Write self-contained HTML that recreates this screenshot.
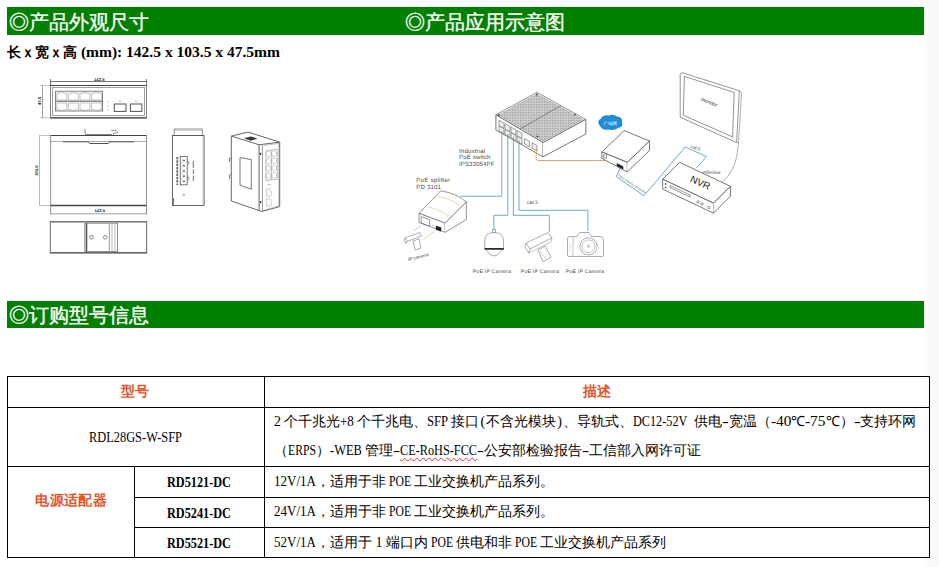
<!DOCTYPE html>
<html><head><meta charset="utf-8">
<style>
*{margin:0;padding:0;box-sizing:border-box}
html,body{width:939px;height:567px;overflow:hidden;background:#fff}
body{position:relative;font-family:"Liberation Sans",sans-serif;color:#000}
.strip{position:absolute;left:923px;top:0;width:16px;height:567px;background:linear-gradient(to right,#fcfcfc,#f8f8f8)}
.bar{position:absolute;left:7px;width:917px;background:#007f00}
.ht{position:absolute;color:#fff;font-family:"Liberation Serif",serif;font-size:19.5px;line-height:20px;white-space:nowrap;-webkit-text-stroke:0.35px #fff}
.dim{position:absolute;left:7px;top:45px;font-family:"Liberation Mono",monospace;font-weight:bold;font-size:14px;line-height:16px;white-space:nowrap}
.dim .a{letter-spacing:-1.4px}
.hl{position:absolute;height:1px;background:#000}
.vl{position:absolute;width:1px;background:#000}
.t{position:absolute;white-space:nowrap;font-size:14px;line-height:16px;font-family:"Liberation Mono",monospace}
.t .a{letter-spacing:-1.6px;word-spacing:-3.3px}
.r7 .a{letter-spacing:-1.4px;word-spacing:0}
.ws .a{word-spacing:-3.5px}
.s{display:inline-block;white-space:pre;font-family:"Liberation Serif",serif;font-size:14px;line-height:16px}
.s i{display:inline-block;font-style:normal;transform-origin:0 50%}
.s.b{font-weight:bold}
.sp{text-decoration:underline wavy #e03030;text-decoration-thickness:1px;text-underline-offset:2px}
.or{color:#e5542a;font-weight:bold;font-family:"Liberation Sans",sans-serif}
svg{position:absolute;left:0;top:0}
</style></head>
<body>
<div class="strip"></div>
<div class="bar" style="top:7px;height:28px"></div>
<div class="ht" style="left:9px;top:13px">◎产品外观尺寸</div>
<div class="ht" style="left:405px;top:13px">◎产品应用示意图</div>
<div class="dim">长ｘ宽ｘ高<span class="s b" style="width:203px"><i style="transform:scaleX(1.108)"> (mm): 142.5 x 103.5 x 47.5mm</i></span></div>

<div class="bar" style="top:301px;height:27px"></div>
<div class="ht" style="left:9px;top:306px">◎订购型号信息</div>

<!-- table lines -->
<div class="hl" style="left:7px;top:376px;width:923px"></div>
<div class="hl" style="left:7px;top:407px;width:923px"></div>
<div class="hl" style="left:7px;top:466px;width:923px"></div>
<div class="hl" style="left:134px;top:497px;width:796px"></div>
<div class="hl" style="left:134px;top:527px;width:796px"></div>
<div class="hl" style="left:7px;top:557px;width:923px"></div>
<div class="vl" style="left:7px;top:376px;height:182px"></div>
<div class="vl" style="left:134px;top:466px;height:92px"></div>
<div class="vl" style="left:264px;top:376px;height:182px"></div>
<div class="vl" style="left:929px;top:376px;height:182px"></div>

<div class="t or" style="left:121px;top:383px">型号</div>
<div class="t or" style="left:582.5px;top:383px">描述</div>
<div class="t" style="left:89px;top:430px"><span class="s" style="width:93.0px"><i style="transform:scaleX(0.885)">RDL28GS-W-SFP</i></span></div>
<div class="t or" style="left:35.3px;top:492px;letter-spacing:0.4px">电源适配器</div>
<div class="t" style="left:167px;top:475px"><span class="s b" style="width:64.0px"><i style="transform:scaleX(0.875)">RD5121-DC</i></span></div>
<div class="t" style="left:167px;top:506px"><span class="s b" style="width:64.0px"><i style="transform:scaleX(0.875)">RD5241-DC</i></span></div>
<div class="t" style="left:167px;top:536px"><span class="s b" style="width:64.0px"><i style="transform:scaleX(0.875)">RD5521-DC</i></span></div>

<div class="t" id="r1" style="left:274px;top:414px"><span class="s" style="width:10.3px"><i class="" style="transform:scaleX(0.981)">2 </i></span>个千兆光<span class="s" style="width:17.1px"><i class="" style="transform:scaleX(0.929)">+8 </i></span>个千兆电、<span class="s" style="width:23.9px"><i class="" style="transform:scaleX(0.907)">SFP </i></span>接口<span class="s" style="width:6.8px"><i class="" style=";padding-left:1.1px">(</i></span>不含光模块<span class="s" style="width:6.8px"><i class="" style=";padding-left:1.1px">)</i></span>、导轨式、<span class="s" style="width:54.4px"><i class="" style="transform:scaleX(0.874)">DC12-52V</i></span><span class="s" style="width:6.8px"><i class="" style="transform:scaleX(1.943)"> </i></span>供电<span class="s" style="width:6.8px"><i class="" style="transform:scaleX(1.456)">-</i></span>宽温（<span class="s" style="width:20.4px"><i class="" style="transform:scaleX(1.093)">-40</i></span>℃<span class="s" style="width:20.4px"><i class="" style="transform:scaleX(1.093)">-75</i></span>℃）<span class="s" style="width:6.8px"><i class="" style="transform:scaleX(1.456)">-</i></span>支持环网</div>
<div class="t" id="r2" style="left:274px;top:443px">（<span class="s" style="width:28.0px"><i class="" style="transform:scaleX(0.837)">ERPS</i></span>）<span class="s" style="width:35.0px"><i class="" style="transform:scaleX(0.891)">-WEB </i></span>管理<span class="s" style="width:7.0px"><i class="" style="transform:scaleX(1.498)">-</i></span><span class="s" style="width:77.0px"><i class="sp" style="transform:scaleX(0.876)">CE-RoHS-FCC</i></span><span class="s" style="width:7.0px"><i class="" style="transform:scaleX(1.498)">-</i></span>公安部检验报告<span class="s" style="width:7.0px"><i class="" style="transform:scaleX(1.498)">-</i></span>工信部入网许可证</div>
<div class="t" id="r3" style="left:274px;top:474px"><span class="s" style="width:42.0px"><i class="" style="transform:scaleX(0.931)">12V/1A</i></span>，适用于非<span class="s" style="width:28.0px"><i class="" style="transform:scaleX(0.837)"> POE </i></span>工业交换机产品系列。</div>
<div class="t" id="r4" style="left:274px;top:504px"><span class="s" style="width:42.0px"><i class="" style="transform:scaleX(0.931)">24V/1A</i></span>，适用于非<span class="s" style="width:28.0px"><i class="" style="transform:scaleX(0.837)"> POE </i></span>工业交换机产品系列。</div>
<div class="t" id="r5" style="left:274px;top:535px"><span class="s" style="width:42.0px"><i class="" style="transform:scaleX(0.931)">52V/1A</i></span>，适用于<span class="s" style="width:14.0px"><i class="" style=""> 1 </i></span>端口内<span class="s" style="width:28.0px"><i class="" style="transform:scaleX(0.837)"> POE </i></span>供电和非<span class="s" style="width:28.0px"><i class="" style="transform:scaleX(0.837)"> POE </i></span>工业交换机产品系列</div>

<svg width="939" height="567" viewBox="0 0 939 567">
<g fill="none" stroke="#555" stroke-width="0.8">
 <!-- front view -->
 <line x1="50.5" y1="81.5" x2="146.5" y2="81.5"/>
 <line x1="50.5" y1="79" x2="50.5" y2="85"/>
 <line x1="146.5" y1="79" x2="146.5" y2="85"/>
 <line x1="40" y1="85.5" x2="50.5" y2="85.5" stroke="#999" stroke-width="0.6"/>
 <line x1="40" y1="117.8" x2="50.5" y2="117.8" stroke="#999" stroke-width="0.6"/>
 <line x1="42.5" y1="85.5" x2="42.5" y2="117.8" stroke="#777" stroke-width="0.7"/>
 <rect x="50.5" y="85.5" width="96" height="32.3" stroke="#777" stroke-width="0.9"/>
 <line x1="50.5" y1="85.5" x2="146.5" y2="85.5" stroke="#444" stroke-width="1.2"/>
 <line x1="50.5" y1="117.8" x2="146.5" y2="117.8" stroke="#444" stroke-width="1.2"/>
 <rect x="52.5" y="87.5" width="92" height="28" stroke="#888"/>
 <rect x="55.6" y="91.2" width="47" height="19.8" stroke="#666"/>
 <line x1="55.6" y1="101.2" x2="102.6" y2="101.2" stroke="#555" stroke-width="1"/>
 <g stroke="#aaa" stroke-width="0.7">
  <path d="M56.8 93.2 h3.2 v-0.9 h3.6 v0.9 h3.2 v6.8 h-10z"/>
  <path d="M56.8 109.8 h3.2 v0.9 h3.6 v-0.9 h3.2 v-6.8 h-10z"/>
  <path d="M68.4 93.2 h3.2 v-0.9 h3.6 v0.9 h3.2 v6.8 h-10z"/>
  <path d="M68.4 109.8 h3.2 v0.9 h3.6 v-0.9 h3.2 v-6.8 h-10z"/>
  <path d="M80.0 93.2 h3.2 v-0.9 h3.6 v0.9 h3.2 v6.8 h-10z"/>
  <path d="M80.0 109.8 h3.2 v0.9 h3.6 v-0.9 h3.2 v-6.8 h-10z"/>
  <path d="M91.6 93.2 h3.2 v-0.9 h3.6 v0.9 h3.2 v6.8 h-10z"/>
  <path d="M91.6 109.8 h3.2 v0.9 h3.6 v-0.9 h3.2 v-6.8 h-10z"/>
 </g>
 <g stroke="#999" stroke-width="0.8"><line x1="107.5" y1="102.2" x2="108.8" y2="102.2"/><line x1="107.5" y1="106" x2="108.8" y2="106"/><line x1="107.5" y1="109.5" x2="108.8" y2="109.5"/></g>
 <rect x="114.3" y="104" width="11.7" height="7.4" stroke="#555" stroke-width="1"/>
 <rect x="130.4" y="104" width="11.5" height="7.4" stroke="#555" stroke-width="1"/>
 <g stroke="#aaa" stroke-width="0.5"><line x1="118" y1="101.5" x2="122" y2="101.5"/><line x1="134" y1="101.5" x2="138" y2="101.5"/></g>
 <!-- top view -->
 <line x1="39.5" y1="135.5" x2="50.6" y2="135.5" stroke="#999" stroke-width="0.6"/>
 <line x1="50.6" y1="135.5" x2="146.5" y2="135.5" stroke="#444" stroke-width="1.2"/>
 <line x1="50.6" y1="141.5" x2="146.5" y2="141.5" stroke="#999"/>
 <path d="M63 141.8 H88 L90 143.5 H108 L110 141.8 H134" stroke="#555" stroke-width="1"/>
 <line x1="39.5" y1="205.5" x2="50.6" y2="205.5" stroke="#999" stroke-width="0.6"/>
 <line x1="50.6" y1="205.5" x2="146.5" y2="205.5" stroke="#444" stroke-width="1.3"/>
 <line x1="50.6" y1="213.8" x2="146.5" y2="213.8" stroke="#777" stroke-width="0.7"/>
 <line x1="50.6" y1="135.5" x2="50.6" y2="214.5" stroke="#666" stroke-width="0.7"/>
 <line x1="146.5" y1="135.5" x2="146.5" y2="214.5" stroke="#666" stroke-width="0.7"/>
 <line x1="39.5" y1="135.5" x2="39.5" y2="205.5" stroke="#888" stroke-width="0.6"/>
 <path d="M84.8 129 L85.5 134.5 H112" stroke="#666" stroke-width="0.8"/>
 <path d="M111 130.5 H116.5 Q118 131 117.5 133 H113.5 V135" stroke="#777" stroke-width="0.7"/>
 <!-- bottom (DIN) view -->
 <rect x="50.3" y="221.6" width="96.4" height="31.4" stroke="#666" stroke-width="1"/>
 <line x1="50.3" y1="222" x2="146.7" y2="222" stroke="#777" stroke-width="1.2"/>
 <line x1="50.3" y1="252.6" x2="146.7" y2="252.6" stroke="#666" stroke-width="1.4"/>
 <rect x="84.8" y="223.2" width="32.8" height="28.3" stroke="#777" stroke-width="0.8"/>
 <line x1="86.5" y1="223.2" x2="86.5" y2="251.5" stroke="#555" stroke-width="1.6"/>
 <line x1="109.4" y1="223.2" x2="109.4" y2="251.5" stroke="#aaa" stroke-width="1.2"/>
 <line x1="112" y1="223.2" x2="112" y2="251.5" stroke="#999" stroke-width="0.7"/>
 <line x1="115" y1="223.2" x2="115" y2="251.5" stroke="#999" stroke-width="0.7"/>
 <circle cx="91.6" cy="237.3" r="1.8" stroke="#777" stroke-width="0.9"/>
 <circle cx="105.3" cy="237.3" r="1.8" stroke="#777" stroke-width="0.9"/>
 <!-- side view -->
 <rect x="174.2" y="129" width="28.1" height="6.5" stroke="#777"/>
 <line x1="174.2" y1="130.5" x2="202.3" y2="130.5" stroke="#aaa" stroke-width="0.6"/>
 <rect x="172.4" y="135.5" width="31.7" height="70" stroke="#555" stroke-width="0.9"/>
 <line x1="202.8" y1="136" x2="202.8" y2="205" stroke="#aaa" stroke-width="0.5"/>
 <line x1="173.6" y1="198" x2="173.6" y2="205.5" stroke="#555" stroke-width="0.8"/>
 <rect x="180.3" y="156.4" width="6.9" height="28.4" stroke="#666" stroke-width="0.9"/>
 <line x1="182.3" y1="158" x2="182.3" y2="183" stroke="#bbb" stroke-width="0.5"/>
 <g fill="#888"><circle cx="184" cy="160.5" r="0.6"/><circle cx="184" cy="165.8" r="0.6"/><circle cx="184" cy="171" r="0.6"/><circle cx="184" cy="176.2" r="0.6"/><circle cx="184" cy="181.4" r="0.6"/></g>
 <g stroke="#777" stroke-width="0.7"><path d="M187.2 161.5 h1.6 v2.5 h-1.6"/><path d="M187.2 177 h1.6 v2.5 h-1.6"/></g>
 <line x1="177.3" y1="157" x2="177.3" y2="185" stroke="#666" stroke-width="1.8" stroke-dasharray="2.5 0.8"/>
 <line x1="193.4" y1="161" x2="193.4" y2="168" stroke="#888" stroke-width="1.2"/>
 <line x1="193.4" y1="169.5" x2="193.4" y2="174" stroke="#888" stroke-width="1.2"/>
 <line x1="193.4" y1="175.5" x2="193.4" y2="181" stroke="#888" stroke-width="1.2"/>
 <circle cx="183.7" cy="194.8" r="0.9" stroke="#888" stroke-width="0.6"/>
 <!-- iso view -->
 <path d="M231.3 136.1 L248 132.1 L279.7 142.1 L279.7 206.6 L262 211.4 L259.1 210.6 L231.3 201 Z" stroke="#555" stroke-width="0.9"/>
 <path d="M231.3 136.1 L259.1 144.8 L279.7 142.1" stroke="#555" stroke-width="0.9"/>
 <line x1="259.1" y1="144.8" x2="259.1" y2="210.6" stroke="#555" stroke-width="0.9"/>
 <path d="M262.5 145 L262.5 211" stroke="#777" stroke-width="0.7"/>
 <path d="M264.2 145.5 L278.8 143.3 L278.8 206 L264.2 210" stroke="#999" stroke-width="0.6"/>
 <path d="M240 157.5 L251.3 159.6 L251.3 189.2 L240 185.2 Z" stroke="#555" stroke-width="0.8"/>
 <path d="M244.5 138.3 L251 136.8 L257 138.6 L250.5 140.4 Z" fill="#333" stroke="#444" stroke-width="0.5"/>
 <g stroke="#aaa" stroke-width="0.6">
  <path d="M265.9 150.6 L277.3 149.2 L277.3 179.3 L265.9 180.6 Z" stroke="#999"/>
  <line x1="271.6" y1="150" x2="271.6" y2="180" stroke="#999"/>
  <path d="M267.3 151.4 h2.4 l1.2 1.2 v2.8 l-1.2 1.2 h-2.4 l-1.2 -1.2 v-2.8z"/>
  <path d="M267.3 158.6 h2.4 l1.2 1.2 v2.8 l-1.2 1.2 h-2.4 l-1.2 -1.2 v-2.8z"/>
  <path d="M267.3 165.8 h2.4 l1.2 1.2 v2.8 l-1.2 1.2 h-2.4 l-1.2 -1.2 v-2.8z"/>
  <path d="M267.3 173.0 h2.4 l1.2 1.2 v2.8 l-1.2 1.2 h-2.4 l-1.2 -1.2 v-2.8z"/>
  <path d="M272.9 151.0 h2.4 l1.2 1.2 v2.8 l-1.2 1.2 h-2.4 l-1.2 -1.2 v-2.8z"/>
  <path d="M272.9 158.2 h2.4 l1.2 1.2 v2.8 l-1.2 1.2 h-2.4 l-1.2 -1.2 v-2.8z"/>
  <path d="M272.9 165.4 h2.4 l1.2 1.2 v2.8 l-1.2 1.2 h-2.4 l-1.2 -1.2 v-2.8z"/>
  <path d="M272.9 172.6 h2.4 l1.2 1.2 v2.8 l-1.2 1.2 h-2.4 l-1.2 -1.2 v-2.8z"/>
  <path d="M266.3 189 h4.5 v2 l0.8 0.8 v3 l-0.8 0.8 v0.5 h-4.5z"/>
  <path d="M266.3 199 h4.5 v2 l0.8 0.8 v3 l-0.8 0.8 v0.5 h-4.5z"/>
  <line x1="267" y1="184.8" x2="271.5" y2="184.3"/>
 </g>
 <g stroke="#333" stroke-width="1.3"><line x1="260.6" y1="152.8" x2="260.6" y2="155"/><line x1="260.6" y1="201" x2="260.6" y2="203.2"/></g>
 <g stroke="#666" stroke-width="0.8"><path d="M231.3 158 L229.5 158 V162"/><path d="M231.3 174 L229.5 175 V179"/></g>
</g>
<g font-family="Liberation Sans" font-size="4" fill="#222" font-weight="bold" style="text-rendering:geometricPrecision">
 <text x="94" y="80.5" font-size="4.2">142.5</text>
 <text x="94.5" y="212.3" font-size="4.2">142.5</text>
 <text transform="translate(41.3 105) rotate(-90)" font-size="4.2">47.5</text>
 <text transform="translate(38.3 176) rotate(-90)" font-size="4.2">103.5</text>
</g>
<defs>
 <pattern id="dots" width="1.6" height="1.6" patternUnits="userSpaceOnUse">
  <rect width="1.6" height="1.6" fill="#d0d0d0"/>
  <rect width="0.8" height="0.8" fill="#959595"/>
 </pattern>
</defs>
<g fill="none" stroke-linejoin="round">
 <!-- switch -->
 <path d="M495.9 114.8 L536.9 92.3 L585.8 119.4 L543 142.6 Z" fill="#fff" stroke="#666" stroke-width="0.7"/>
 <path d="M498.5 114.9 L536.9 93.9 L583.2 119.4 L543 141 Z" fill="url(#dots)" stroke="#888" stroke-width="0.4"/>
 <line x1="561" y1="105.5" x2="520" y2="129" stroke="#555" stroke-width="0.6"/>
 <path d="M495.9 114.8 L543 142.6 L543 156.8 L495.9 130 Z" fill="#fff" stroke="#555" stroke-width="0.8"/>
 <path d="M543 142.6 L585.8 119.4 L585.8 134 L543 156.8" fill="#fff" stroke="#555" stroke-width="0.8"/>
 <g stroke="#666" stroke-width="0.6" fill="#f0f0f0">
  <path d="M499 120.3 l5 2.8 v5.2 l-5 -2.8z"/><path d="M505 123.7 l5 2.8 v5.2 l-5 -2.8z"/><path d="M511 127.1 l5 2.8 v5.2 l-5 -2.8z"/><path d="M517 130.5 l5 2.8 v5.2 l-5 -2.8z"/>
  <path d="M499 126 l5 2.8 v5.2 l-5 -2.8z"/><path d="M505 129.4 l5 2.8 v5.2 l-5 -2.8z"/><path d="M511 132.8 l5 2.8 v5.2 l-5 -2.8z"/><path d="M517 136.2 l5 2.8 v5.2 l-5 -2.8z"/>
  <path d="M524.5 138.5 l5 2.8 v5.5 l-5 -2.8z"/><path d="M532 142.7 l5 2.8 v5.5 l-5 -2.8z"/>
 </g>
 <g fill="#444"><circle cx="498.8" cy="115" r="0.9"/><circle cx="536.9" cy="94.5" r="0.9"/><circle cx="575" cy="114.6" r="0.9"/><circle cx="537.4" cy="136.4" r="0.9"/></g>
 <!-- cables blue -->
 <g stroke="#4a9fc4" stroke-width="0.85">
  <path d="M501.8 131 V196.2 H460.5"/>
  <path d="M507.8 134 V215.3 H493.9 V229.4"/>
  <path d="M513.4 137 V215.3 H549.3 V232"/>
  <path d="M519 140 V210.3 H587.9 V231"/>
  <path d="M620.2 168 L616.2 176.7 L644 195.7 L685.3 146.8 L706.4 156.7 L696.5 168"/>
  <path d="M421.2 225.3 L414.1 230.9" stroke-width="0.5"/>
 </g>
 <g stroke="#e09a5a" stroke-width="0.9">
  <path d="M536.2 148.8 V158.5 Q536.2 160.5 539 160.5 H605.9"/>
  <path d="M434.6 230.9 L423.3 239.4" stroke-width="0.5"/>
 </g>
 <!-- splitter -->
 <path d="M440.9 190.7 Q458 194 466.3 202 L445.1 223.1 L419 213.3 Z" fill="#fff" stroke="#666" stroke-width="0.7"/>
 <path d="M419 213.3 L445.1 223.1 L445.1 232.3 L419 222.4 Z" fill="#fff" stroke="#666" stroke-width="0.7"/>
 <path d="M445.1 223.1 L466.3 202 L466.3 219.6 L445.1 232.3" fill="#fff" stroke="#666" stroke-width="0.7"/>
 <g stroke="#e8b47a" stroke-width="0.6"><path d="M438 196.3 Q452 199 460.6 206.2"/><path d="M428.2 206.9 Q442 210 449.4 216.8"/></g>
 <rect x="421.2" y="216.8" width="8.4" height="6.5" stroke="#666" stroke-width="0.6" transform="skewY(20) translate(0 -153.5)"/>
 <path d="M436 226 L441 227.6 L441 231.2 L436 229.6 Z" fill="#222" stroke="#222" stroke-width="0.5"/>
 <circle cx="433" cy="225.5" r="0.5" fill="#555"/>
 <!-- ip camera small -->
 <path d="M405 237.8 L419.5 232.5 L421.5 236 L407 241.5 Z" fill="#fff" stroke="#777" stroke-width="0.6"/>
 <path d="M405 237.8 L404 240.5 L406 243.5 L407 241.5" stroke="#777" stroke-width="0.6"/>
 <path d="M413 241 L419 239 L421 248 L415 250 Z" fill="#fff" stroke="#777" stroke-width="0.6"/>
 <!-- dome -->
 <path d="M492.5 229.4 h3 v3 h-3z" stroke="#666" stroke-width="0.6"/>
 <path d="M484.8 248.8 V241 Q484.8 232.5 494 232.5 Q503.5 232.5 503.5 241 V248.8 Z" fill="#fff" stroke="#777" stroke-width="0.6"/>
 <line x1="484.5" y1="248.9" x2="503.8" y2="248.9" stroke="#111" stroke-width="1.5"/>
 <path d="M486 250 Q494 262 502 250" stroke="#777" stroke-width="0.6"/>
 <!-- bullet camera -->
 <path d="M526 243 L548 232.5 L552 238 L530 249 Z" fill="#fff" stroke="#777" stroke-width="0.6"/>
 <path d="M526 243 L525 247 L529 253 L530 249" stroke="#777" stroke-width="0.6"/>
 <path d="M529 253 L551 242 L552 238" stroke="#888" stroke-width="0.5"/>
 <path d="M538 250 L545 246 L551 257 L543 262 Z" fill="#fff" stroke="#777" stroke-width="0.6"/>
 <line x1="540" y1="251" x2="546" y2="259" stroke="#999" stroke-width="0.5"/>
 <!-- dslr -->
 <path d="M567.5 239 Q567.5 236.5 570 236.5 H577 L579.5 232.5 H589 L591.5 236.5 H600.5 Q603.5 236.5 603.5 239.5 V255 Q603.5 256.5 602 256.5 H569 Q567.5 256.5 567.5 255 Z" fill="#fff" stroke="#777" stroke-width="0.6"/>
 <circle cx="588.5" cy="246.3" r="8.6" stroke="#777" stroke-width="0.6"/>
 <circle cx="588.5" cy="246.3" r="6.4" stroke="#888" stroke-width="0.5"/>
 <circle cx="588.5" cy="246.3" r="1" stroke="#666" stroke-width="0.5"/>
 <line x1="573" y1="237" x2="573" y2="256.5" stroke="#888" stroke-width="0.5"/>
 <line x1="570" y1="244" x2="570" y2="252" stroke="#999" stroke-width="0.5" stroke-dasharray="0.8 0.8"/>
 <!-- converter -->
 <path d="M601.9 152 L624.1 130.6 L649.5 141 L627.3 162.4 Z" fill="#fff" stroke="#555" stroke-width="0.8"/>
 <path d="M601.9 152 L627.3 162.4 L627.3 171.9 L601.9 158.4 Z" fill="#fff" stroke="#555" stroke-width="0.8"/>
 <path d="M627.3 162.4 L649.5 141 L649.5 150.5 L627.3 171.9" fill="#fff" stroke="#555" stroke-width="0.8"/>
 <rect x="603.5" y="155" width="3" height="3" stroke="#555" stroke-width="0.6"/>
 <path d="M617 163.5 L623 166.5 L623 169 L617 166 Z" fill="#222" stroke="#222" stroke-width="0.6"/>
 <!-- cloud -->
 <path d="M600 126 Q596 121 601 118.5 Q603 114.5 609 115.5 Q613 113.5 617 116.5 Q623 117 622 122 Q624 127 618 128 Q614 131 609 129.5 Q603 131 600 126 Z" fill="#1e8fd6"/>
 <!-- monitor -->
 <path d="M680.2 117.2 V74.5 Q680.2 72.5 683 72.9 L739.4 90.8 L736.6 142.6 Z" fill="#fff" stroke="#666" stroke-width="0.7"/>
 <path d="M739.4 90.8 L741.6 92.6 L738.5 143.2 L736.6 142.6" stroke="#777" stroke-width="0.6"/>
 <path d="M684.4 76.3 L734.2 92.5 L732.6 136.9 L683.3 115.2 Z" stroke="#666" stroke-width="0.7"/>
 <path d="M738.5 143 Q737 172 720.5 183.5" stroke="#777" stroke-width="0.6"/>
 <!-- NVR -->
 <path d="M662.7 179.2 L679.6 162.3 L730.4 186.3 L713.5 203.2 Z" fill="#fff" stroke="#555" stroke-width="0.8"/>
 <path d="M662.7 179.2 L713.5 203.2 L713.5 213.1 L662.7 189.1 Z" fill="#fff" stroke="#555" stroke-width="0.8"/>
 <path d="M713.5 203.2 L730.4 186.3 L730.4 196.2 L713.5 213.1" fill="#fff" stroke="#555" stroke-width="0.8"/>
 <path d="M670 185.5 L690 195 L690 197 L670 187.5 Z" stroke="#555" stroke-width="0.6"/>
 <g fill="#333"><circle cx="665.5" cy="184" r="0.8"/><circle cx="665.5" cy="187.5" r="0.8"/></g>
 <g stroke="#555" stroke-width="0.6"><circle cx="698" cy="202" r="1.2"/><circle cx="702" cy="204" r="1.2"/><circle cx="709" cy="207.5" r="1.2"/></g>
</g>
<g font-family="Liberation Sans" fill="#4a4a4a" style="text-rendering:geometricPrecision">
 <text x="459" y="152.6" font-size="6.1" letter-spacing="0.15">Industrial</text>
 <text x="459" y="159" font-size="6.1" letter-spacing="0.15">PoE switch</text>
 <text x="459" y="165.7" font-size="6.1" letter-spacing="0.1">IPS33054PF</text>
 <text x="416.3" y="181.7" font-size="6.1" letter-spacing="0.25">PoE splitter</text>
 <text x="416.3" y="188.5" font-size="6.1" letter-spacing="0.15">PD 3101</text>
 <text x="527" y="203.5" font-size="5.2">cat.5</text>
 <text x="472.7" y="272.8" font-size="5.1" letter-spacing="0.25">PoE IP Camera</text>
 <text x="520.8" y="272.8" font-size="5.1" letter-spacing="0.25">PoE IP Camera</text>
 <text x="565.8" y="272.8" font-size="5.1" letter-spacing="0.25">PoE IP Camera</text>
 <text transform="translate(408.5 261) rotate(-14)" font-size="4.6">IP camera</text>
 <text transform="translate(700.5 100.5) rotate(22)" font-size="5.2" fill="#333">monitor</text>
 <text transform="translate(689.5 181.5) rotate(24)" font-size="9.8" fill="#222">NVR</text>
 <text transform="translate(690 147.5) rotate(20)" font-size="4.8">cat.5</text>
 <text transform="translate(702.5 173.5) rotate(2)" font-size="4.6">videoline</text>
 <text transform="translate(617.5 176) rotate(33)" font-size="3.4" fill="#777">Fiber media converter</text>
 <text x="603.5" y="124.5" font-size="4.5" fill="#fff">广域网</text>
</g>

</svg>
</body></html>
